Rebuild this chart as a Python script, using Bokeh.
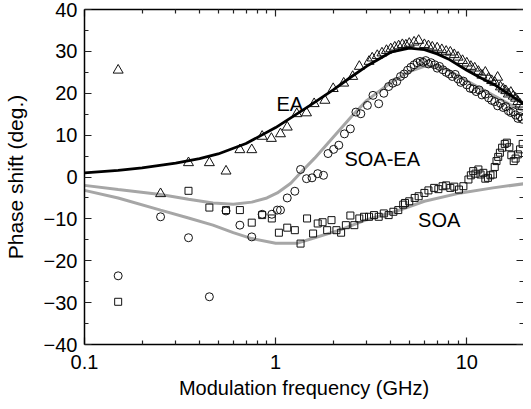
from bokeh.plotting import figure
from bokeh.models import Range1d, FixedTicker, LogAxis, LinearAxis
from bokeh.core.properties import value
from bokeh.embed import file_html
from bokeh.resources import INLINE

# ---- data ----
ea_x = [0.15, 0.25, 0.35, 0.45, 0.55, 0.65, 0.75, 0.85, 0.95, 1.06, 1.15, 1.29, 1.45, 1.59,
        1.81, 2.0, 2.27, 2.53, 2.74, 3.08, 3.2, 3.4, 3.6, 3.8, 4.0, 4.2, 4.4, 4.6, 4.8, 5.0,
        5.3, 5.6, 6.0, 6.3, 6.6, 7.0, 7.4, 7.8, 8.2, 8.6, 9.0, 9.5, 10.0, 10.5, 11.0, 11.5,
        12.0, 12.5, 13.0, 13.5, 14.0, 14.5, 15.0, 15.5, 16.0, 16.5, 17.0, 17.5, 18.0, 18.5,
        19.0, 19.6]
ea_y = [25.5, -4.0, 3.4, 3.4, 1.4, 6.5, 6.5, 9.7, 9.2, 10.3, 11.9, 15.1, 15.3, 17.5,
        18.3, 21.1, 22.4, 24.0, 26.4, 27.6, 28.4, 29.0, 29.6, 30.2, 30.6, 31.0, 31.3, 31.6, 31.5, 31.9,
        32.2, 32.6, 31.6, 31.3, 31.0, 30.8, 30.4, 30.0, 29.8, 29.2, 28.6, 27.8, 27.2, 26.4, 26.0, 25.2,
        24.3, 25.0, 23.6, 23.0, 22.6, 23.8, 21.5, 21.0, 20.6, 19.8, 20.2, 19.3, 18.8, 18.0,
        17.4, 16.8]

soaea_x = [0.15, 0.25, 0.35, 0.45, 0.55, 0.65, 0.75, 0.85, 0.955, 1.02, 1.06, 1.15, 1.26, 1.35,
           1.45, 1.55, 1.66, 1.78, 1.88, 2.01, 2.14, 2.29, 2.46, 2.63, 2.79, 3.02, 3.23, 3.46,
           3.68, 3.9, 4.1, 4.3, 4.5, 4.7, 4.9, 5.1, 5.3, 5.5, 5.7, 5.9, 6.1, 6.3, 6.5, 6.8, 7.0,
           7.2, 7.5, 7.8, 8.1, 8.4, 8.7, 9.0, 9.3, 9.6, 10.0, 10.4, 10.8, 11.2, 11.6, 12.0,
           12.5, 13.0, 13.5, 14.0, 14.5, 15.0, 15.5, 16.0, 16.5, 17.0, 17.5, 18.0, 18.5, 19.0, 19.5]
soaea_y = [-23.6, -9.5, -14.5, -28.6, -8.1, -11.5, -14.3, -8.9, -8.9, -7.9, -7.9, -5.0, -3.4, 1.8,
           -0.4, -0.2, 0.8, 0.4, 5.6, 6.6, 7.6, 10.3, 11.5, 15.5, 15.1, 17.1, 19.5, 17.5,
           20.0, 21.6, 22.4, 22.8, 24.0, 24.6, 25.5, 26.2, 26.8, 27.3, 27.6, 27.4, 27.8, 27.0, 27.3, 26.8, 26.0,
           26.4, 25.6, 25.0, 24.6, 24.0, 24.5, 23.4, 22.6, 22.9, 22.0, 21.2, 21.0, 20.4, 20.8, 19.6,
           19.8, 18.9, 18.3, 18.0, 17.0, 17.6, 16.6, 16.8, 15.8, 15.4, 15.6, 14.8, 14.0, 14.4, 13.8]

soa_x = [0.15, 0.35, 0.45, 0.55, 0.65, 0.75, 0.85, 0.955, 1.04, 1.15, 1.26, 1.35, 1.46, 1.57,
         1.66, 1.76, 1.86, 1.96, 2.08, 2.2, 2.33, 2.46, 2.58, 2.74, 2.9, 3.08, 3.27, 3.46, 3.68,
         3.9, 4.13, 4.38, 4.65, 4.75, 5.0, 5.34, 5.6, 6.0, 6.3, 6.75, 7.1, 7.47, 7.8, 8.2, 8.6,
         9.1, 9.6, 10.2, 10.5, 10.8, 11.1, 11.5, 11.8, 12.2, 12.5, 12.9, 13.3, 13.7, 14.0, 14.3,
         14.6, 14.9, 15.3, 15.8, 16.2, 16.7, 17.1, 17.6, 18.0, 18.5, 19.0, 19.6]
soa_y = [-29.8, -3.3, -7.3, -7.9, -7.9, -10.9, -9.1, -9.9, -13.3, -12.1, -12.7, -15.9, -9.9, -13.5,
         -11.1, -10.8, -12.7, -10.3, -12.7, -13.3, -11.5, -9.2, -11.5, -9.9, -9.5, -9.5, -9.1, -9.5, -8.7,
         -9.1, -8.3, -7.9, -6.6, -6.2, -5.8, -5.0, -4.6, -3.8, -3.2, -2.6, -2.9, -2.2, -2.0, -2.6, -2.3,
         -3.0, -2.2, -0.6, 0.4, 1.4, 0.8, 1.8, 0.6, 1.0, -0.4, -0.2, 0.4, 0.6, 2.4, 3.8,
         4.8, 5.8, 7.0, 7.9, 8.2, 7.1, 5.2, 3.8, 4.4, 5.4, 6.6, 7.9]

fit_ea_x = [0.1, 0.15, 0.2, 0.3, 0.4, 0.5, 0.7, 1.0, 1.5, 2.0, 2.5, 3.0, 4.0, 5.0, 6.0, 7.0,
            8.0, 10.0, 12.0, 14.0, 17.0, 20.0]
fit_ea_y = [1.0, 1.6, 2.2, 3.3, 4.4, 5.5, 8.0, 11.8, 17.0, 20.8, 24.0, 26.5, 29.8, 30.8, 30.4, 29.4,
            28.2, 25.5, 23.5, 22.0, 19.5, 17.3]

fit_soaea_x = [0.1, 0.15, 0.25, 0.35, 0.47, 0.6, 0.75, 0.9, 1.02, 1.2, 1.35, 1.6, 2.0, 2.5, 3.0,
               4.0, 5.0, 6.0, 7.0, 8.0, 10.0, 12.0, 14.0, 17.0, 20.0]
fit_soaea_y = [-2.0, -3.0, -4.2, -5.3, -6.2, -6.5, -6.0, -5.0, -3.8, -1.5, 1.0, 4.5, 9.5, 14.5, 18.3,
               22.5, 25.2, 26.4, 26.5, 25.5, 23.0, 21.0, 19.3, 17.2, 15.7]

fit_soa_x = [0.1, 0.15, 0.25, 0.35, 0.47, 0.6, 0.75, 1.0, 1.3, 1.6, 2.16, 3.0, 4.2, 6.0, 9.3,
             13.7, 20.0]
fit_soa_y = [-3.2, -5.0, -7.9, -9.8, -11.5, -13.3, -14.7, -15.8, -15.8, -14.5, -12.7, -10.2, -8.3,
             -5.8, -3.8, -2.6, -1.6]

labels_text = ["EA", "SOA-EA", "SOA"]
labels_x = [1.01, 2.29, 5.56]
labels_y = [17.5, 4.2, -10.3]

x_major = [0.1, 1, 10]
x_minor = [0.2, 0.3, 0.4, 0.5, 0.6, 0.7, 0.8, 0.9, 2, 3, 4, 5, 6, 7, 8, 9, 20]
x_labels = {0.1: "0.1", 1: "1", 10: "10"}
y_major = [-40, -30, -20, -10, 0, 10, 20, 30, 40]
y_minor = [-35, -25, -15, -5, 5, 15, 25, 35]

FONT = "Liberation Sans"

p = figure(width=523, height=401, x_axis_type="log", output_backend="svg",
           toolbar_location=None, x_range=Range1d(0.1, 19.8), y_range=Range1d(-40, 40),
           min_border_left=75, min_border_right=0, min_border_top=9, min_border_bottom=10)
p.background_fill_color = "white"
p.border_fill_color = "white"
p.outline_line_color = None
p.xgrid.visible = False
p.ygrid.visible = False

def style_axis(ax, show_labels=True, line=True):
    ax.major_tick_in = 7
    ax.major_tick_out = 0
    ax.minor_tick_in = 4
    ax.minor_tick_out = 0
    ax.axis_line_color = "black" if line else None
    ax.axis_line_width = 1.5
    ax.major_tick_line_width = 1.2
    ax.minor_tick_line_width = 1.2
    ax.major_tick_line_color = "#222222"
    ax.minor_tick_line_color = "#222222"
    if show_labels:
        ax.major_label_text_font = FONT
        ax.major_label_text_font_size = "20px"
        ax.major_label_text_color = "black"
        ax.axis_label_text_font = FONT
        ax.axis_label_text_font_size = "20px"
        ax.axis_label_text_font_style = "normal"
        ax.axis_label_text_color = "black"
    else:
        ax.major_label_text_font_size = "1px"
        ax.major_label_text_alpha = 0
        ax.major_label_standoff = 0

xa = p.xaxis[0]
xa.ticker = FixedTicker(ticks=x_major, minor_ticks=x_minor)
xa.major_label_overrides = x_labels
xa.axis_label = "Modulation frequency (GHz)"
style_axis(xa)
xa.major_label_standoff = 10
xa.axis_label_standoff = 5

ya = p.yaxis[0]
ya.ticker = FixedTicker(ticks=y_major, minor_ticks=y_minor)
ya.axis_label = "Phase shift (deg.)"
style_axis(ya)
ya.major_label_standoff = 7
ya.axis_label_standoff = 14
ya.axis_label_text_font_size = "21px"

top = LogAxis(ticker=FixedTicker(ticks=x_major, minor_ticks=x_minor))
style_axis(top, show_labels=False)
p.add_layout(top, "above")

right = LinearAxis(ticker=FixedTicker(ticks=y_major, minor_ticks=y_minor))
style_axis(right, show_labels=False, line=False)
p.add_layout(right, "right")

# fits
p.line(fit_soa_x, fit_soa_y, line_color="#a6a6a6", line_width=3)
p.line(fit_soaea_x, fit_soaea_y, line_color="#a6a6a6", line_width=3)

# data
p.scatter(soa_x, soa_y, marker="square", size=7, fill_color=None, line_color="#111111", line_width=1)
p.scatter(soaea_x, soaea_y, marker="circle", size=8, fill_color=None, line_color="#111111", line_width=1)
p.scatter(ea_x, ea_y, marker="triangle", size=10, fill_color=None, line_color="#111111", line_width=1)

p.line(fit_ea_x, fit_ea_y, line_color="black", line_width=2.8)

p.text(labels_x, labels_y, text=labels_text, text_font=value(FONT), text_font_size="20px",
       text_color="black", text_baseline="alphabetic", text_align="left")

open("out.html", "w").write(file_html(p, INLINE))
